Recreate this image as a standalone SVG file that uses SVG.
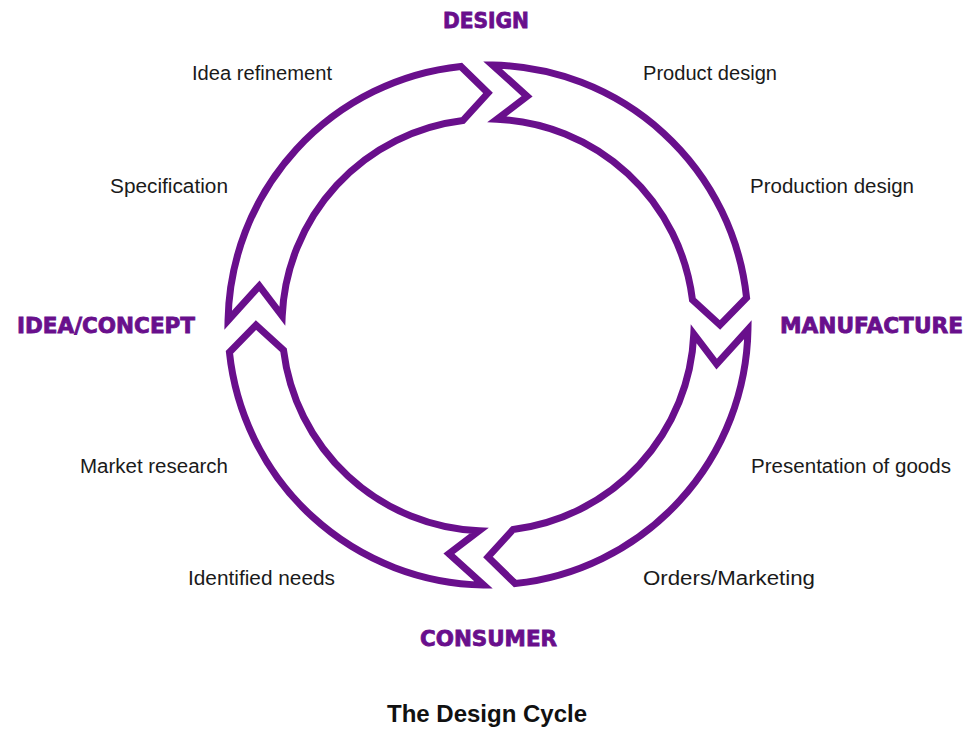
<svg xmlns="http://www.w3.org/2000/svg" width="965" height="729" viewBox="0 0 965 729">
<style>
.arrow{fill:#ffffff;stroke:#690f8c;stroke-width:7;stroke-linejoin:miter}
.stage{font-family:"DejaVu Sans",sans-serif;font-weight:bold;font-size:21px;fill:#690f8c;stroke:#690f8c;stroke-width:0.8}
.lbl{font-family:"Liberation Sans",sans-serif;font-size:20px;fill:#1a1a1a}
.title{font-family:"Liberation Sans",sans-serif;font-weight:bold;font-size:24px;fill:#111111}
</style>
<defs>
<path id="arc" d="M228.04,320.46 A260,260 0 0 1 460.82,66.42 L488,93 L462.90,120.53 A206,206 0 0 0 282.20,316.01 L259.32,285.91 Z"/>
</defs>
<rect width="965" height="729" fill="#ffffff"/>
<g id="connectors">
<use href="#arc" class="arrow"/>
<use href="#arc" class="arrow" transform="rotate(90 488 325)"/>
<use href="#arc" class="arrow" transform="rotate(180 488 325)"/>
<use href="#arc" class="arrow" transform="rotate(270 488 325)"/>
</g>
<g id="design"><text class="stage" x="443" y="28" textLength="86" lengthAdjust="spacingAndGlyphs">DESIGN</text></g>
<g id="manufacture"><text class="stage" x="780" y="333" textLength="183" lengthAdjust="spacingAndGlyphs">MANUFACTURE</text></g>
<g id="consumer"><text class="stage" x="420" y="646" textLength="137" lengthAdjust="spacingAndGlyphs">CONSUMER</text></g>
<g id="idea-concept"><text class="stage" x="17" y="333" textLength="178" lengthAdjust="spacingAndGlyphs">IDEA/CONCEPT</text></g>
<g id="labels">
<text class="lbl" x="192" y="80" textLength="140" lengthAdjust="spacingAndGlyphs">Idea refinement</text>
<text class="lbl" x="643" y="80" textLength="134" lengthAdjust="spacingAndGlyphs">Product design</text>
<text class="lbl" x="110" y="193" textLength="118" lengthAdjust="spacingAndGlyphs">Specification</text>
<text class="lbl" x="750" y="193" textLength="164" lengthAdjust="spacingAndGlyphs">Production design</text>
<text class="lbl" x="80" y="473" textLength="148" lengthAdjust="spacingAndGlyphs">Market research</text>
<text class="lbl" x="751" y="473" textLength="200" lengthAdjust="spacingAndGlyphs">Presentation of goods</text>
<text class="lbl" x="188" y="585" textLength="147" lengthAdjust="spacingAndGlyphs">Identified needs</text>
<text class="lbl" x="643" y="585" textLength="172" lengthAdjust="spacingAndGlyphs">Orders/Marketing</text>
</g>
<g id="caption"><text class="title" x="487" y="722" text-anchor="middle">The Design Cycle</text></g>
</svg>
